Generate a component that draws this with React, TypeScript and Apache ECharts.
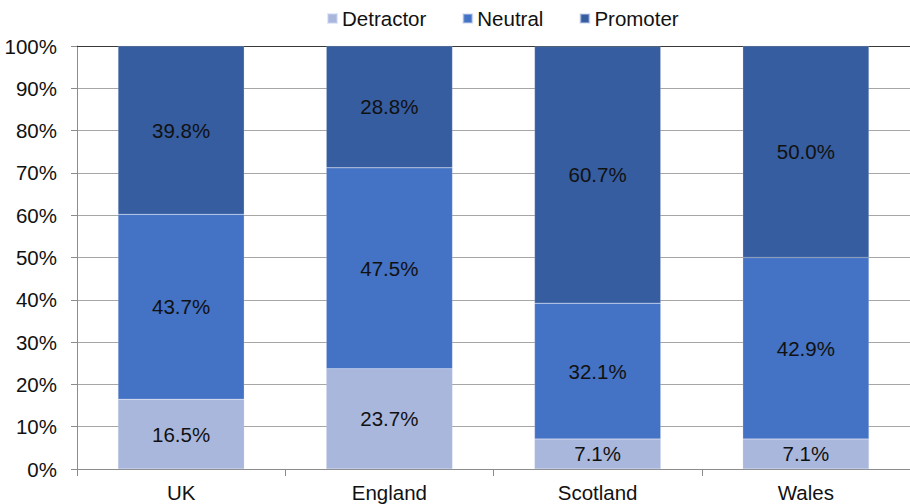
import React, { useEffect, useRef } from "react";
import * as echarts from "echarts";

const categories = ["UK", "England", "Scotland", "Wales"];
const detractor = [16.5, 23.7, 7.1, 7.1];
const neutral = [43.7, 47.5, 32.1, 42.9];
const promoter = [39.8, 28.8, 60.7, 50.0];
const seriesNames = ["Detractor", "Neutral", "Promoter"];
const colors = ["#A9B7DD", "#4472C4", "#355DA0"];

export default function App() {
  const ref = useRef<HTMLDivElement>(null);
  useEffect(() => {
    if (!ref.current) return;
    const chart = echarts.init(ref.current, null, { renderer: "svg" });
    const font = "Liberation Sans, Arial, sans-serif";
    const mk = (name: string, data: number[], color: string) => ({
      name,
      type: "bar",
      stack: "total",
      data,
      barWidth: "60.6%",
      itemStyle: { color, borderColor: "rgba(200,212,240,0.5)", borderWidth: 0.5 },
      label: {
        show: true,
        position: "inside",
        fontSize: 20.5,
        fontFamily: font,
        color: "#111",
        formatter: (p: any) => Number(p.value).toFixed(1) + "%",
      },
    });
    chart.setOption({
      animation: false,
      textStyle: { fontFamily: font },
      legend: {
        top: 3,
        left: 322,
        itemWidth: 9,
        itemHeight: 9,
        itemGap: 36,
        icon: "rect",
        textStyle: { fontSize: 20.5, fontFamily: font, color: "#111", padding: [0, 0, 0, 0] },
        data: seriesNames,
      },
      grid: { left: 77, right: 0, top: 46, bottom: 35, containLabel: false },
      xAxis: [
        {
          type: "category",
          data: categories,
          axisLine: { show: true, lineStyle: { color: "#8c8c8c", width: 1 } },
          axisTick: { show: true, interval: 0, alignWithLabel: false, length: 7, lineStyle: { color: "#8c8c8c" } },
          axisLabel: { fontSize: 20.5, fontFamily: font, color: "#111", margin: 13 },
        },
        {
          type: "category",
          data: categories,
          position: "top",
          axisLine: { show: true, lineStyle: { color: "#3a3a3a", width: 1.2 } },
          axisTick: { show: false },
          axisLabel: { show: false },
        },
      ],
      yAxis: {
        type: "value",
        min: 0,
        max: 100,
        interval: 10,
        axisLine: { show: true, lineStyle: { color: "#8c8c8c", width: 1 } },
        axisTick: { show: true, length: 6, lineStyle: { color: "#8c8c8c" } },
        axisLabel: { fontSize: 20.5, fontFamily: font, color: "#111", margin: 20, formatter: "{value}%" },
        splitLine: { show: true, lineStyle: { color: "#a6a6a6", width: 1 } },
      },
      series: [
        mk(seriesNames[0], detractor, colors[0]),
        mk(seriesNames[1], neutral, colors[1]),
        mk(seriesNames[2], promoter, colors[2]),
      ],
    });
    return () => chart.dispose();
  }, []);
  return (
    <div
      ref={ref}
      style={{ position: "absolute", left: 0, top: 0, width: 910, height: 504, background: "#fff" }}
    />
  );
}
